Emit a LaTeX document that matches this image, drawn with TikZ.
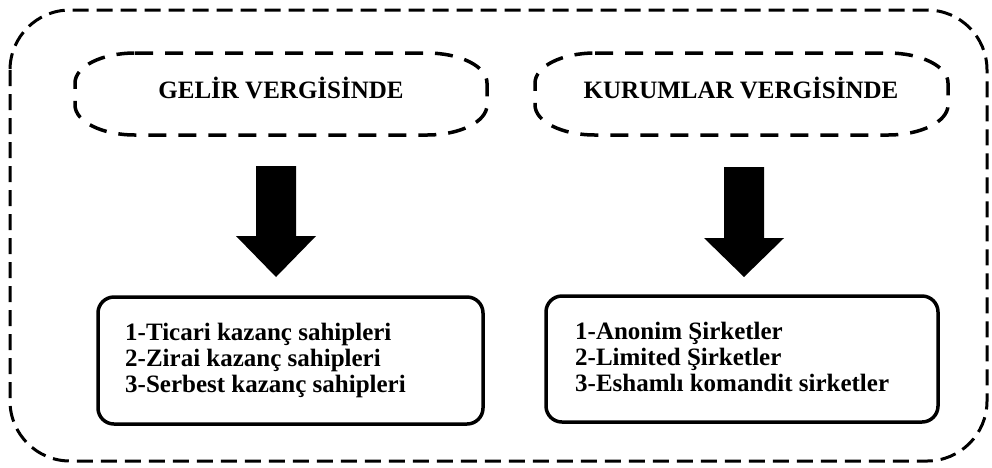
\documentclass[tikz,border=0pt]{standalone}
\usepackage{fontspec}
\setmainfont{Liberation Serif}
\begin{document}
\begin{tikzpicture}[x=1pt,y=1pt,
  outerline/.style={line width=3pt,dash pattern=on 16pt off 8pt},
  ovalline/.style={line width=3.5pt,dash pattern=on 18pt off 12pt},
  listbox/.style={draw,line width=3.5pt,rounded corners=16pt},
  titletext/.style={font=\bfseries\fontsize{25}{26}\selectfont,inner sep=0pt,anchor=base},
  itemtext/.style={font=\bfseries\fontsize{25}{26}\selectfont,inner sep=0pt,anchor=base west},
  blockarrow/.style={fill=black}]
\useasboundingbox (0,0) rectangle (992,-467);
% outer frame
\draw[outerline,rounded corners=60pt] (10,-10) rectangle (987,-461);
% left oval
\draw[ovalline] (135,-53) -- (427,-53)
  arc[start angle=90,end angle=0,x radius=60,y radius=30] -- (487,-105)
  arc[start angle=0,end angle=-90,x radius=60,y radius=30] -- (135,-135)
  arc[start angle=-90,end angle=-180,x radius=60,y radius=30] -- (75,-83)
  arc[start angle=180,end angle=90,x radius=60,y radius=30] -- cycle;
\node[titletext] (gelir) at (281,-98) {GELİR VERGİSİNDE};
% right oval
\draw[ovalline] (595,-53) -- (888,-53)
  arc[start angle=90,end angle=0,x radius=60,y radius=30] -- (948,-105)
  arc[start angle=0,end angle=-90,x radius=60,y radius=30] -- (595,-135)
  arc[start angle=-90,end angle=-180,x radius=60,y radius=30] -- (535,-83)
  arc[start angle=180,end angle=90,x radius=60,y radius=30] -- cycle;
\node[titletext] (kurum) at (741,-98) {KURUMLAR VERGİSİNDE};
% arrows
\fill[blockarrow] (256,-166) -- (296,-166) -- (296,-236) -- (316,-236) -- (276,-277) -- (236,-236) -- (256,-236) -- cycle;
\fill[blockarrow] (724,-167) -- (764,-167) -- (764,-238) -- (784,-238) -- (744,-277) -- (704,-238) -- (724,-238) -- cycle;
% left box
\draw[listbox] (98,-297) rectangle (483,-424);
\node[itemtext] (l1) at (125,-340) {1-Ticari kazanç sahipleri};
\node[itemtext] (l2) at (125,-366) {2-Zirai kazanç sahipleri};
\node[itemtext] (l3) at (125,-392) {3-Serbest kazanç sahipleri};
% right box
\draw[listbox] (546,-296) rectangle (938,-422);
\node[itemtext] (r1) at (575,-339) {1-Anonim Şirketler};
\node[itemtext] (r2) at (575,-365) {2-Limited Şirketler};
\node[itemtext] (r3) at (575,-391) {3-Eshamlı komandit sirketler};
\end{tikzpicture}
\end{document}
